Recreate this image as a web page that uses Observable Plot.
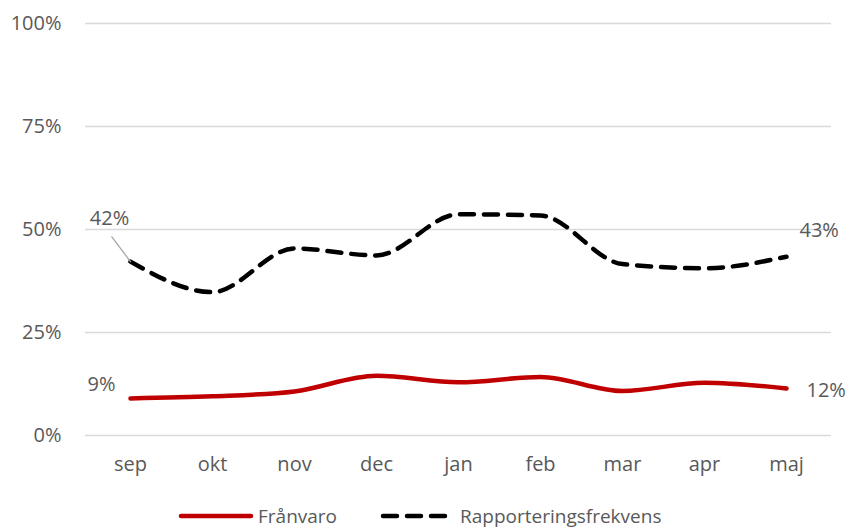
<!DOCTYPE html>
<html><head><meta charset="utf-8">
<script src="https://cdn.jsdelivr.net/npm/d3@7"></script>
<script src="https://cdn.jsdelivr.net/npm/@observablehq/plot@0.6"></script>
<style>
body{margin:0;background:#fff;font-family:"Open Sans",sans-serif;overflow:hidden;}
#chart svg{display:block;}
#legend{height:30px;color:#595959;font-size:19px;position:relative;}
.item{position:absolute;display:flex;align-items:center;top:6px;height:20px;line-height:20px;}
</style></head>
<body><div id="chart"></div><div id="legend"></div>
<script>
const months = ["sep","okt","nov","dec","jan","feb","mar","apr","maj"];
const franvaro = [9.0, 9.5, 10.7, 14.5, 12.9, 14.2, 10.8, 12.8, 11.4];
const rapportering = [42.2, 34.8, 45.4, 43.7, 53.7, 53.4, 41.6, 40.6, 43.4];
const yTicks = [0, 25, 50, 75, 100];
const labelsF = [{m:"sep", v:9.0, t:"9%"}, {m:"maj", v:11.4, t:"12%"}];
const labelsR = [{m:"sep", v:42.2, t:"42%"}, {m:"maj", v:43.4, t:"43%"}];

const dataF = months.map((m,i)=>({m, v:franvaro[i]}));
const dataR = months.map((m,i)=>({m, v:rapportering[i]}));

const grey = "#595959";
const fs = 20;
const chart = Plot.plot({
  width: 854, height: 500,
  marginLeft: 85, marginRight: 23, marginTop: 23, marginBottom: 65,
  style: {fontFamily: "'Open Sans', sans-serif", fontSize: fs + "px", color: grey, background: "#fff"},
  x: {type: "point", domain: months, padding: 0.5, label: null},
  y: {domain: [0, 100], label: null},
  marks: [
    Plot.gridY(yTicks, {stroke: "#d9d9d9", strokeOpacity: 1, strokeWidth: 1.5}),
    Plot.axisY(yTicks, {tickSize: 0, tickPadding: 24, tickFormat: d => d + "%", fill: grey, fontSize: fs}),
    Plot.axisX({tickSize: 0, tickPadding: 21, fill: grey, fontSize: fs}),
    Plot.line(dataR, {x: "m", y: "v", stroke: "#000", strokeWidth: 4.5, strokeDasharray: "14,10", strokeLinecap: "round", curve: "monotone-x"}),
    Plot.line(dataF, {x: "m", y: "v", stroke: "#c00000", strokeWidth: 4.5, strokeLinecap: "round", curve: "monotone-x"}),
    Plot.vector(labelsR.filter(d=>d.m==="sep"), {x: "m", y: "v", length: 31, rotate: -37, anchor: "start", stroke: "#a6a6a6", strokeWidth: 1.3,
      shape: {draw(ctx, l){ ctx.moveTo(0,0); ctx.lineTo(0,-l); }}}),
    Plot.text(labelsR.filter(d=>d.m==="sep"), {x: "m", y: "v", text: "t", dx: -21, dy: -43, fill: grey, fontSize: fs}),
    Plot.text(labelsR.filter(d=>d.m==="maj"), {x: "m", y: "v", text: "t", dx: 13, dy: -26, textAnchor: "start", fill: grey, fontSize: fs}),
    Plot.text(labelsF.filter(d=>d.m==="sep"), {x: "m", y: "v", text: "t", dx: -29, dy: -14, fill: grey, fontSize: fs}),
    Plot.text(labelsF.filter(d=>d.m==="maj"), {x: "m", y: "v", text: "t", dx: 20, dy: 2, textAnchor: "start", fill: grey, fontSize: fs})
  ]
});
document.getElementById("chart").appendChild(chart);

const legend = document.getElementById("legend");
legend.innerHTML = `
<div class="item" style="left:178px"><svg width="76" height="10"><line x1="3" y1="5" x2="73" y2="5" stroke="#c00000" stroke-width="4.5" stroke-linecap="round"/></svg><span style="margin-left:4px">Frånvaro</span></div>
<div class="item" style="left:380px"><svg width="70" height="10"><line x1="3" y1="5" x2="67" y2="5" stroke="#000" stroke-width="4.5" stroke-dasharray="14,10" stroke-linecap="round"/></svg><span style="margin-left:10px">Rapporteringsfrekvens</span></div>`;
</script></body></html>
